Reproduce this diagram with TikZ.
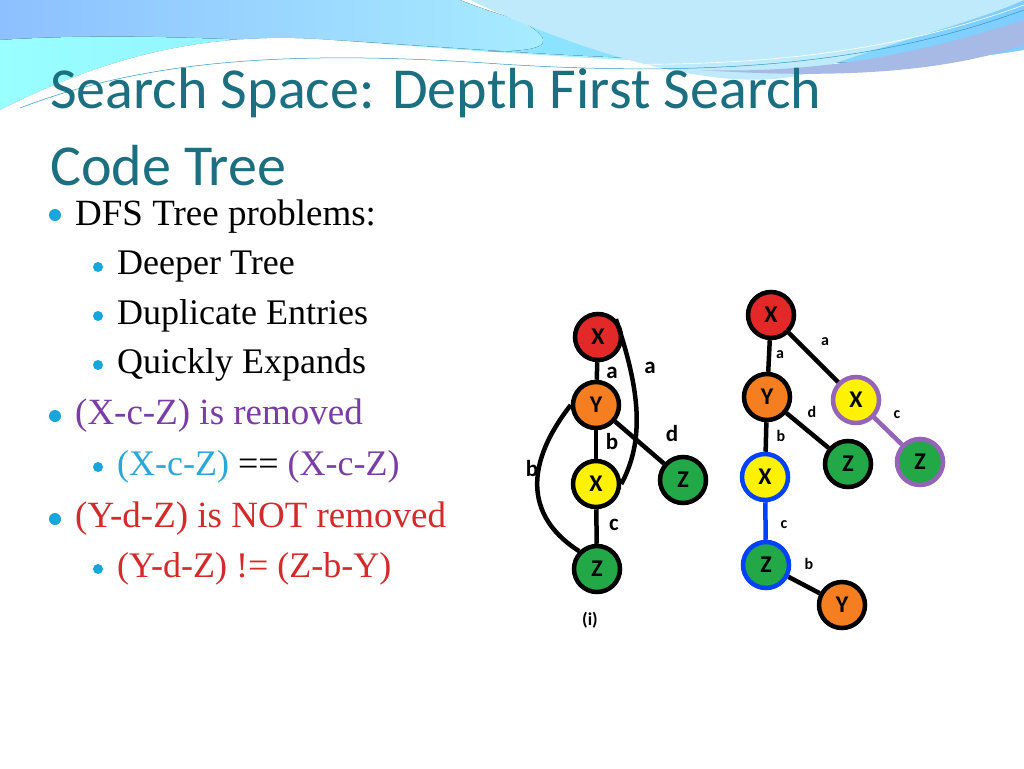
\documentclass[tikz,border=0pt]{standalone}
\usepackage{fontspec}
\setmainfont{Liberation Serif}
\newfontfamily\titlefont{Carlito}
\newfontfamily\nodefont{Carlito}
\usetikzlibrary{backgrounds}
\begin{document}
\begin{tikzpicture}[x=1pt,y=-1pt,
  vert/.style={circle,draw=black,line width=4.5pt,minimum size=46pt,inner sep=0pt,font=\nodefont\bfseries\fontsize{24}{24}\selectfont},
  edge/.style={line width=4.5pt,black},
  elab/.style={font=\nodefont\bfseries\fontsize{23}{23}\selectfont,inner sep=0pt},
  slab/.style={font=\nodefont\bfseries\fontsize{16}{16}\selectfont,inner sep=0pt},
  bul/.style={circle,fill=cyan!80!teal,inner sep=0pt,minimum size=#1},
  txt/.style={anchor=west,font=\fontsize{#1}{#1}\selectfont,inner sep=0pt}]
\definecolor{ttl}{HTML}{1B6F80}
\definecolor{ngreen}{HTML}{22A846}
\definecolor{nred}{HTML}{E32828}
\definecolor{norange}{HTML}{F57F20}
\definecolor{nyellow}{HTML}{FFF200}
\definecolor{pur}{HTML}{7A3CA6}
\definecolor{cy}{HTML}{2AA7D8}
\definecolor{rd}{HTML}{D42A2A}
\useasboundingbox (0,0) rectangle (1024,768);
% title
\node[anchor=west,inner sep=0pt,text=ttl,font=\titlefont\fontsize{58}{58}\selectfont] (t1) at (50,93) {Search Space: Depth First Search};
\node[anchor=west,inner sep=0pt,text=ttl,font=\titlefont\fontsize{58}{58}\selectfont] (t2) at (50,166) {Code Tree};
% bullets
\node[bul=12pt] (b1) at (55,215) {}; \node[txt=37] (l1) at (75,217) {DFS Tree problems:};
\node[bul=10pt] (b2) at (98,267) {}; \node[txt=36] (l2) at (117,267) {Deeper Tree};
\node[bul=10pt] (b3) at (98,316) {}; \node[txt=36] (l3) at (117,316) {Duplicate Entries};
\node[bul=10pt] (b4) at (98,365) {}; \node[txt=36] (l4) at (117,365) {Quickly Expands};
\node[bul=12pt] (b5) at (55,416) {}; \node[txt=37,text=pur] (l5) at (75,416) {(X-c-Z) is removed};
\node[bul=10pt] (b6) at (98,467) {}; \node[txt=36] (l6) at (117,467) {\textcolor{cy}{(X-c-Z)} == \textcolor{pur}{(X-c-Z)}};
\node[bul=12pt] (b7) at (55,519) {}; \node[txt=37,text=rd] (l7) at (75,519) {(Y-d-Z) is NOT removed};
\node[bul=10pt] (b8) at (98,569) {}; \node[txt=36,text=rd] (l8) at (117,569) {(Y-d-Z) != (Z-b-Y)};
% left tree
\node[vert,fill=nred] (lx) at (598,337) {X};
\node[vert,fill=norange] (ly) at (596,405) {Y};
\node[vert,fill=nyellow] (lx2) at (596,484) {X};
\node[vert,fill=ngreen] (lz) at (597,569) {Z};
\node[vert,fill=ngreen] (lz2) at (683,480) {Z};
% right tree
\node[vert,fill=nred] (rx) at (771,315) {X};
\node[vert,fill=norange] (ry) at (767,397) {Y};
\node[vert,fill=nyellow,draw=blue!75!cyan] (rx2) at (765,477) {X};
\node[vert,fill=ngreen,draw=blue!75!cyan] (rz) at (766,565) {Z};
\node[vert,fill=norange] (ry2) at (842,605) {Y};
\node[vert,fill=ngreen] (rz2) at (848,464) {Z};
\node[vert,fill=nyellow,draw=pur!80] (rx3) at (856,400) {X};
\node[vert,fill=ngreen,draw=pur!80] (rz3) at (920,462) {Z};
\begin{scope}[on background layer]
\fill[white] (0,0) rectangle (1024,768);
\fill[left color=cyan!45!blue!45, right color=cyan!30] (0,0) -- (460,0) .. controls (560,40) and (700,60) .. (780,70) -- (0,110) -- cycle;
\fill[left color=cyan!40, right color=cyan!60!blue!50] (0,110) .. controls (100,60) and (200,30) .. (330,40) .. controls (500,50) and (700,70) .. (1024,60) -- (1024,0) -- (480,0) .. controls (700,100) and (300,20) .. (0,40) -- cycle;
\fill[white] (0,110) .. controls (100,60) and (200,30) .. (330,40) .. controls (600,60) and (850,80) .. (1024,50) -- (1024,768) -- (0,768) -- cycle;
\fill[cyan!25] (470,0) .. controls (620,70) and (760,100) .. (830,65) .. controls (900,40) and (980,20) .. (1024,0) -- cycle;
\fill[cyan!45!blue!35] (700,70) .. controls (850,75) and (960,40) .. (1024,20) -- (1024,45) .. controls (950,70) and (850,80) .. (700,70) -- cycle;
\draw[white,line width=0.6pt] (20,105) .. controls (150,55) and (300,45) .. (500,60) .. controls (750,75) and (900,50) .. (1024,5);
\draw[cyan!60!teal,line width=0.5pt] (20,108) .. controls (150,58) and (300,50) .. (500,64) .. controls (750,80) and (900,55) .. (1024,10);
\fill[white] (520,268) rectangle (972,658);
\draw[edge] (lx) -- (ly); \draw[edge] (ly) -- (lx2); \draw[edge] (lx2) -- (lz); \draw[edge] (ly) -- (lz2);
\draw[edge] (rx) -- (ry); \draw[edge] (ry) -- (rx2); \draw[edge,draw=blue!75!cyan] (rx2) -- (rz);
\draw[edge] (rz) -- (ry2); \draw[edge] (ry) -- (rz2); \draw[edge] (rx) -- (rx3);
\draw[edge,draw=pur!80] (rx3) -- (rz3);
\end{scope}
\draw[edge] (lx.north east) .. controls (640,390) and (645,440) .. (lx2.east);
\draw[edge] (ly.west) .. controls (520,470) and (530,520) .. (lz.north west);
\node[elab] (la1) at (612,373) {a}; \node[elab] (la2) at (650,368) {a};
\node[elab] (lb1) at (612,442) {b}; \node[elab] (ld) at (672,434) {d};
\node[elab] (lb2) at (532,469) {b}; \node[elab] (lc) at (614,525) {c};
\node[font=\nodefont\bfseries\fontsize{18}{18}\selectfont] (cap) at (590,620) {(i)};
\node[slab] (ra1) at (780,355) {a}; \node[slab] (ra2) at (825,342) {a};
\node[slab] (rd) at (812,412) {d}; \node[slab] (rb1) at (781,436) {b};
\node[slab] (rc1) at (897,415) {c}; \node[slab] (rc2) at (784,525) {c};
\node[slab] (rb2) at (809,564) {b};
\end{tikzpicture}
\end{document}
